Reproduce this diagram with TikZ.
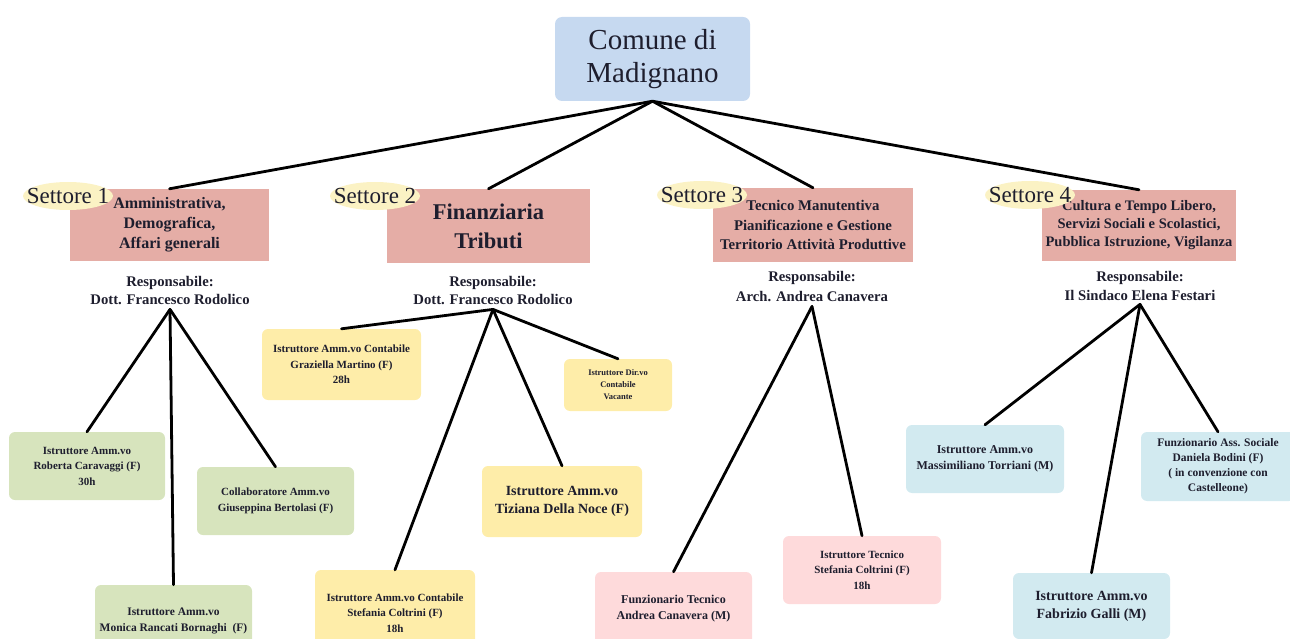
\documentclass[tikz,border=0pt]{standalone}
\usepackage{fontspec}
\setmainfont{Liberation Serif}

\definecolor{rootblue}{HTML}{C6D9F0}
\definecolor{settsalmon}{HTML}{E5ADA6}
\definecolor{settyellow}{HTML}{FBF2C4}
\definecolor{leafgreen}{HTML}{D7E4BD}
\definecolor{leafyellow}{HTML}{FEEDA9}
\definecolor{leafpink}{HTML}{FEDADB}
\definecolor{leafblue}{HTML}{D2EAF0}
\definecolor{ink}{HTML}{1E1E2E}
\newcommand{\fs}[2]{\fontsize{#1}{#2}\selectfont}

\begin{document}
\begin{tikzpicture}[x=1pt,y=-1pt,text=ink,
  comune/.style={fill=rootblue,rounded corners=7pt,minimum width=195pt,minimum height=84pt,align=center,font=\fs{29}{33}},
  settore/.style={fill=settsalmon,align=center,inner sep=0pt},
  etich/.style={inner sep=0pt,font=\fs{23}{23}},
  resp/.style={align=center,inner sep=4pt,font=\bfseries\fs{14.7}{18}},
  leaf/.style={rounded corners=6pt,align=center,inner sep=0pt,font=\bfseries\fs{11}{15.5}},
  lin/.style={line width=2.8pt,line cap=round}]
\useasboundingbox (0,0) rectangle (1290,639);

\node[comune] (com) at (652.5,59) {Comune di\\Madignano};

% settori
\node[settore,minimum width=199pt,minimum height=72pt,font=\bfseries\fs{16}{20}] (s1) at (169.5,225) {Amministrativa,\\Demografica,\\Affari generali};
\node[settore,minimum width=203pt,minimum height=74pt,font=\bfseries\fs{22.5}{29}] (s2) at (488.5,226) {Finanziaria\\Tributi};
\node[settore,minimum width=200pt,minimum height=74pt,font=\bfseries\fs{14.8}{19.5}] (s3) at (813,225) {Tecnico Manutentiva\\Pianificazione e Gestione\\Territorio Attività Produttive};
\node[settore,minimum width=194pt,minimum height=71pt,font=\bfseries\fs{14.5}{18}] (s4) at (1139,225.5) {Cultura e Tempo Libero,\\Servizi Sociali e Scolastici,\\Pubblica Istruzione, Vigilanza};

% etichette
\foreach \n/\p in {1/{68,196},2/{375,196},3/{702,195},4/{1030,195}}{
  \fill[settyellow] (\p) ellipse [x radius=45,y radius=14];
  \node[etich] (e\n) at (\p) {Settore \n};
}

\node[resp] (r1) at (170,291) {Responsabile:\\Dott. Francesco Rodolico};
\node[resp] (r2) at (493,291) {Responsabile:\\Dott. Francesco Rodolico};
\node[resp,font=\bfseries\fs{14.7}{20}] (r3) at (812,287) {Responsabile:\\Arch. Andrea Canavera};
\node[resp,font=\bfseries\fs{14.7}{19}] (r4) at (1140,285.5) {Responsabile:\\Il Sindaco Elena Festari};

% settore 1
\node[leaf,fill=leafgreen,minimum width=156pt,minimum height=68pt] (roberta) at (87,466) {Istruttore Amm.vo\\Roberta Caravaggi (F)\\30h};
\node[leaf,fill=leafgreen,minimum width=157pt,minimum height=68pt] (giuseppina) at (275.5,501) {Collaboratore Amm.vo\\Giuseppina Bertolasi (F)};
\node[leaf,fill=leafgreen,minimum width=157pt,minimum height=72pt,font=\bfseries\fs{11.5}{16}] (monica) at (173.5,621) {Istruttore Amm.vo\\Monica Rancati Bornaghi\ \ (F)};

% settore 2
\node[leaf,fill=leafyellow,minimum width=159pt,minimum height=71pt] (graziella) at (341.5,364.5) {Istruttore Amm.vo Contabile\\Graziella Martino (F)\\28h};
\node[leaf,fill=leafyellow,minimum width=108pt,minimum height=52pt,font=\bfseries\fs{8.5}{12}] (vacante) at (618,385) {Istruttore Dir.vo\\Contabile\\Vacante};
\node[leaf,fill=leafyellow,minimum width=160pt,minimum height=71pt,font=\bfseries\fs{14}{18}] (tiziana) at (562,501.5) {Istruttore Amm.vo\\Tiziana Della Noce (F)};
\node[leaf,fill=leafyellow,minimum width=160pt,minimum height=86pt] (stefania) at (395,613) {Istruttore Amm.vo Contabile\\Stefania Coltrini (F)\\18h};

% settore 3
\node[leaf,fill=leafpink,minimum width=157pt,minimum height=74pt,font=\bfseries\fs{12}{16}] (funztec) at (673.5,609) {Funzionario Tecnico\\Andrea Canavera (M)};
\node[leaf,fill=leafpink,minimum width=158pt,minimum height=68pt] (istrtec) at (862,570) {Istruttore Tecnico\\Stefania Coltrini (F)\\18h};

% settore 4
\node[leaf,fill=leafblue,minimum width=158pt,minimum height=68pt,font=\bfseries\fs{12}{16}] (massimiliano) at (985,459) {Istruttore Amm.vo\\Massimiliano Torriani (M)};
\node[leaf,fill=leafblue,minimum width=154pt,minimum height=69pt,font=\bfseries\fs{11.5}{15}] (daniela) at (1218,466.5) {Funzionario Ass. Sociale\\Daniela Bodini (F)\\( in convenzione con\\Castelleone)};
\node[leaf,fill=leafblue,minimum width=157pt,minimum height=66pt,font=\bfseries\fs{14}{18}] (fabrizio) at (1091.5,606) {Istruttore Amm.vo\\Fabrizio Galli (M)};

% connettori
\foreach \s in {s1,s2,s3,s4}
  \draw[lin] (com.south) -- (\s.north);
\foreach \l in {roberta,monica,giuseppina}
  \draw[lin] (r1.south) -- (\l.north);
\foreach \l in {graziella,vacante,tiziana,stefania}
  \draw[lin] (r2.south) -- (\l.north);
\foreach \l in {funztec,istrtec}
  \draw[lin] (r3.south) -- (\l.north);
\foreach \l in {massimiliano,daniela,fabrizio}
  \draw[lin] (r4.south) -- (\l.north);
\end{tikzpicture}
\end{document}
